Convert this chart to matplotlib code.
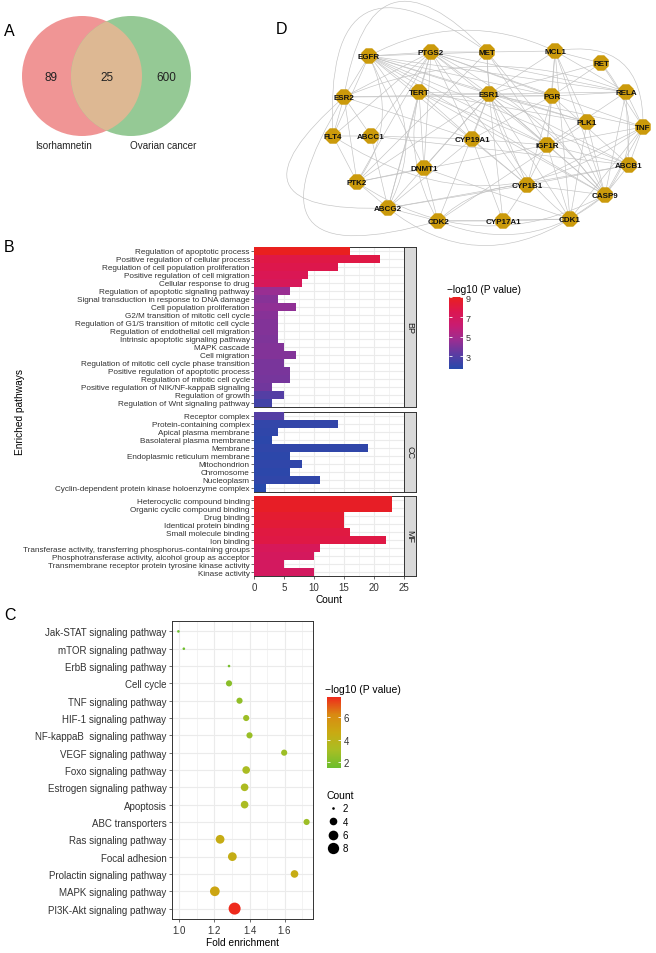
import numpy as np
import matplotlib.pyplot as plt
from matplotlib.colors import LinearSegmentedColormap, Normalize
from matplotlib.cm import ScalarMappable
from matplotlib.patches import Circle, PathPatch
from matplotlib.path import Path
from matplotlib.lines import Line2D

plt.rcParams['font.family'] = ['Liberation Sans', 'DejaVu Sans']

W, H = 656, 954

# ---------------- A: venn
venn_sets = ['Isorhamnetin', 'Ovarian cancer']
venn_counts = [89, 25, 600]   # left only, both, right only

# ---------------- B: GO enrichment
bp_terms = ['Regulation of apoptotic process', 'Positive regulation of cellular process',
            'Regulation of cell population proliferation', 'Positive regulation of cell migration',
            'Cellular response to drug', 'Regulation of apoptotic signaling pathway',
            'Signal transduction in response to DNA damage', 'Cell population proliferation',
            'G2/M transition of mitotic cell cycle', 'Regulation of G1/S transition of mitotic cell cycle',
            'Regulation of endothelial cell migration', 'Intrinsic apoptotic signaling pathway',
            'MAPK cascade', 'Cell migration', 'Regulation of mitotic cell cycle phase transition',
            'Positive regulation of apoptotic process', 'Regulation of mitotic cell cycle',
            'Positive regulation of NIK/NF-kappaB signaling', 'Regulation of growth',
            'Regulation of Wnt signaling pathway']
bp_count = [16, 21, 14, 9, 8, 6, 4, 7, 4, 4, 4, 4, 5, 7, 5, 6, 6, 3, 5, 3]
bp_logp = [9.05, 7.9, 7.7, 7.4, 7.2, 4.6, 4.2, 4.4, 4.2, 4.1, 4.1, 4.0, 4.1, 4.1, 3.9, 3.9, 3.8, 3.7, 3.0, 2.5]

cc_terms = ['Receptor complex', 'Protein-containing complex', 'Apical plasma membrane',
            'Basolateral plasma membrane', 'Membrane', 'Endoplasmic reticulum membrane',
            'Mitochondrion', 'Chromosome', 'Nucleoplasm',
            'Cyclin-dependent protein kinase holoenzyme complex']
cc_count = [5, 14, 4, 3, 19, 6, 8, 6, 11, 2]
cc_logp = [3.0, 2.1, 2.0, 1.9, 2.0, 1.9, 2.0, 1.9, 2.0, 1.7]

mf_terms = ['Heterocyclic compound binding', 'Organic cyclic compound binding', 'Drug binding',
            'Identical protein binding', 'Small molecule binding', 'Ion binding',
            'Transferase activity, transferring phosphorus-containing groups',
            'Phosphotransferase activity, alcohol group as acceptor',
            'Transmembrane receptor protein tyrosine kinase activity', 'Kinase activity']
mf_count = [23, 23, 15, 15, 16, 22, 11, 10, 5, 10]
mf_logp = [8.8, 8.8, 8.5, 8.3, 8.0, 7.9, 7.2, 7.0, 6.9, 6.9]

# ---------------- C: KEGG
kegg_terms = ['Jak-STAT signaling pathway', 'mTOR signaling pathway', 'ErbB signaling pathway',
              'Cell cycle', 'TNF signaling pathway', 'HIF-1 signaling pathway',
              'NF-kappaB  signaling pathway', 'VEGF signaling pathway', 'Foxo signaling pathway',
              'Estrogen signaling pathway', 'Apoptosis', 'ABC transporters', 'Ras signaling pathway',
              'Focal adhesion', 'Prolactin signaling pathway', 'MAPK signaling pathway',
              'PI3K-Akt signaling pathway']
kegg_fold = [0.994, 1.025, 1.283, 1.283, 1.343, 1.381, 1.400, 1.598, 1.381, 1.372, 1.372,
             1.726, 1.232, 1.302, 1.657, 1.202, 1.315]
kegg_count = [2, 2, 2, 3, 3, 3, 3, 3, 4, 4, 4, 3, 5, 5, 4, 6, 9]
kegg_logp = [1.5, 1.6, 1.8, 2.3, 2.5, 2.8, 2.7, 2.8, 3.2, 3.3, 3.2, 2.8, 4.5, 4.4, 4.5, 4.9, 7.8]

# ---------------- D: PPI network
ppi_layout = {
    'EGFR': (369, 57), 'PTGS2': (431, 53), 'MET': (487, 53), 'MCL1': (555, 52), 'RET': (601, 64),
    'ESR2': (344, 98), 'TERT': (419, 93), 'ESR1': (489, 95), 'PGR': (552, 97), 'RELA': (626, 93),
    'PLK1': (587, 123), 'TNF': (643, 128), 'FLT4': (333, 137), 'ABCC1': (371, 137),
    'CYP19A1': (472, 140), 'IGF1R': (547, 146), 'ABCB1': (629, 166), 'DNMT1': (424, 169),
    'PTK2': (357, 183), 'CYP1B1': (527, 186), 'CASP9': (605, 196), 'ABCG2': (388, 209),
    'CDK2': (438, 222), 'CYP17A1': (503, 222), 'CDK1': (570, 220),
}
ppi_edges = [
    ('EGFR', 'PTGS2'), ('EGFR', 'MET'), ('EGFR', 'ESR2'), ('EGFR', 'TERT'), ('EGFR', 'ESR1'),
    ('EGFR', 'PGR'), ('EGFR', 'IGF1R'), ('EGFR', 'PTK2'), ('EGFR', 'FLT4'), ('EGFR', 'CYP1B1'),
    ('EGFR', 'CASP9'), ('EGFR', 'RELA'), ('EGFR', 'ABCB1'), ('EGFR', 'PLK1'), ('EGFR', 'ABCG2'),
    ('EGFR', 'DNMT1'), ('EGFR', 'MCL1'),
    ('PTGS2', 'MET'), ('PTGS2', 'ESR2'), ('PTGS2', 'FLT4'), ('PTGS2', 'ABCC1'), ('PTGS2', 'PTK2'),
    ('PTGS2', 'TERT'), ('PTGS2', 'ESR1'), ('PTGS2', 'CYP19A1'), ('PTGS2', 'CYP1B1'),
    ('PTGS2', 'RELA'), ('PTGS2', 'TNF'), ('PTGS2', 'CASP9'), ('PTGS2', 'IGF1R'),
    ('PTGS2', 'ABCG2'), ('PTGS2', 'DNMT1'), ('PTGS2', 'PGR'),
    ('MET', 'MCL1'), ('MET', 'ESR1'), ('MET', 'IGF1R'), ('MET', 'CASP9'), ('MET', 'PTK2'),
    ('MET', 'ESR2'), ('MET', 'CDK1'),
    ('MCL1', 'RET'), ('MCL1', 'PGR'), ('MCL1', 'ESR1'), ('MCL1', 'TNF'), ('MCL1', 'CASP9'),
    ('MCL1', 'CDK1'), ('MCL1', 'RELA'), ('MCL1', 'PLK1'), ('MCL1', 'IGF1R'),
    ('RET', 'PGR'), ('RET', 'ESR1'), ('RET', 'TNF'), ('RET', 'CASP9'),
    ('ESR2', 'ESR1'), ('ESR2', 'FLT4'), ('ESR2', 'PTK2'), ('ESR2', 'ABCC1'), ('ESR2', 'CYP19A1'),
    ('ESR2', 'PGR'), ('ESR2', 'ABCG2'), ('ESR2', 'RELA'),
    ('TERT', 'ESR1'), ('TERT', 'CYP19A1'), ('TERT', 'DNMT1'), ('TERT', 'CDK2'), ('TERT', 'PLK1'),
    ('TERT', 'CASP9'), ('TERT', 'ABCG2'), ('TERT', 'IGF1R'),
    ('ESR1', 'PGR'), ('ESR1', 'IGF1R'), ('ESR1', 'CYP19A1'), ('ESR1', 'CYP1B1'),
    ('ESR1', 'CYP17A1'), ('ESR1', 'DNMT1'), ('ESR1', 'CASP9'), ('ESR1', 'CDK1'),
    ('ESR1', 'ABCB1'), ('ESR1', 'ABCG2'), ('ESR1', 'RELA'), ('ESR1', 'TNF'), ('ESR1', 'PLK1'),
    ('ESR1', 'CDK2'), ('ESR1', 'PTK2'),
    ('PGR', 'IGF1R'), ('PGR', 'CYP19A1'), ('PGR', 'CYP1B1'), ('PGR', 'CASP9'), ('PGR', 'ABCB1'),
    ('PGR', 'RELA'),
    ('RELA', 'TNF'), ('RELA', 'CASP9'), ('RELA', 'ABCB1'), ('RELA', 'IGF1R'),
    ('PLK1', 'CDK1'), ('PLK1', 'CDK2'), ('PLK1', 'CASP9'),
    ('TNF', 'CASP9'), ('TNF', 'ABCB1'), ('TNF', 'IGF1R'), ('TNF', 'CDK1'), ('TNF', 'CYP1B1'),
    ('FLT4', 'ABCC1'), ('FLT4', 'PTK2'), ('FLT4', 'TNF'),
    ('ABCC1', 'ABCG2'), ('ABCC1', 'ABCB1'), ('ABCC1', 'CYP19A1'),
    ('CYP19A1', 'CYP1B1'), ('CYP19A1', 'CYP17A1'), ('CYP19A1', 'IGF1R'), ('CYP19A1', 'ABCG2'),
    ('IGF1R', 'PTK2'), ('IGF1R', 'CASP9'), ('IGF1R', 'CDK1'), ('IGF1R', 'CYP1B1'), ('IGF1R', 'ABCB1'),
    ('ABCB1', 'ABCG2'), ('ABCB1', 'CASP9'), ('ABCB1', 'CYP1B1'),
    ('DNMT1', 'CDK2'), ('DNMT1', 'PTK2'), ('DNMT1', 'CDK1'),
    ('PTK2', 'ABCG2'), ('PTK2', 'CASP9'),
    ('CYP1B1', 'ABCG2'), ('CYP1B1', 'CYP17A1'), ('CYP1B1', 'CASP9'), ('CYP1B1', 'CDK2'),
    ('CASP9', 'CDK1'), ('CASP9', 'CDK2'), ('ABCG2', 'CDK2'), ('ABCG2', 'CDK1'),
    ('CDK2', 'CYP17A1'), ('CDK2', 'CDK1'), ('CYP17A1', 'CDK1'),
    ('ESR2', 'CDK2'), ('FLT4', 'MET'),
]
# bend of the looping edges (fraction of the edge length)
ppi_bend = {
    ('MET', 'ESR2'): -1.0, ('FLT4', 'MET'): 1.05, ('ESR2', 'ABCG2'): -1.4, ('ESR2', 'CDK2'): -1.3,
    ('ABCG2', 'CDK1'): -0.35, ('PTK2', 'CASP9'): -0.3, ('CASP9', 'CDK2'): 0.3,
    ('MCL1', 'TNF'): 0.6, ('EGFR', 'MCL1'): 0.25, ('RET', 'CASP9'): 0.4, ('FLT4', 'TNF'): -0.35,
    ('EGFR', 'ABCG2'): 0.35, ('ESR2', 'RELA'): 0.2, ('MET', 'CDK1'): -0.25, ('PTGS2', 'CASP9'): 0.12,
    ('TERT', 'CDK2'): -0.2, ('EGFR', 'PTK2'): 0.3, ('CYP1B1', 'CDK2'): -0.2,
}

fig = plt.figure(figsize=(W / 100, H / 100), dpi=100)


def px_axes(x0, y0, x1, y1):
    return fig.add_axes([x0 / W, 1 - y1 / H, (x1 - x0) / W, (y1 - y0) / H])


def letter(x, y, s):
    fig.text(x / W, 1 - y / H, s, fontsize=11.5, ha='left', va='center')


dark = '#333333'
grid_c = '#EBEBEB'

# ================= A
ax = px_axes(0, 0, 260, 160)
ax.set_xlim(0, 260)
ax.set_ylim(160, 0)
ax.axis('off')
left = Circle((82, 77), 60, fc='#F09595', ec='none')
right = Circle((131, 77), 60, fc='#95C995', ec='none')
ax.add_patch(left)
ax.add_patch(right)
lens = Circle((131, 77), 60, fc='#DDB893', ec='none')
ax.add_patch(lens)
lens.set_clip_path(left)
for x, n in zip([51, 107, 166], venn_counts):
    ax.text(x, 78, str(n), fontsize=8.5, ha='center', va='center', color='#222222')
for x, s in zip([63, 163], venn_sets):
    ax.text(x, 146, s, fontsize=7.1, ha='center', va='center', color='#222222')
letter(4, 31, 'A')

# ================= D
ax = px_axes(260, 0, 656, 240)
ax.set_xlim(260, 656)
ax.set_ylim(240, 0)
ax.axis('off')
for a, b in ppi_edges:
    p0 = np.array(ppi_layout[a], float)
    p1 = np.array(ppi_layout[b], float)
    bend = ppi_bend.get((a, b), 0.0)
    d = p1 - p0
    ctrl = (p0 + p1) / 2 + bend * np.array([d[1], -d[0]])
    path = Path([p0, ctrl, p1], [Path.MOVETO, Path.CURVE3, Path.CURVE3])
    ax.add_patch(PathPatch(path, fc='none', ec='#C2C2C2', lw=0.45, clip_on=False, zorder=1))
names = list(ppi_layout)
nx = [ppi_layout[n][0] for n in names]
ny = [ppi_layout[n][1] for n in names]
ax.scatter(nx, ny, s=145, marker='8', c='#CB9A0B', edgecolors='none', zorder=3)
for n, x, y in zip(names, nx, ny):
    ax.text(x, y + 0.5, n, fontsize=5.8, fontweight='bold', ha='center', va='center',
            color='#111111', zorder=4)
letter(276, 29, 'D')

# ================= B
cmap_b = LinearSegmentedColormap.from_list(
    'go', ['#2649AB', '#5A3CA3', '#9A2E92', '#C81C72', '#DC1650', '#E9201E'])
all_logp = bp_logp + cc_logp + mf_logp
norm_b = Normalize(min(all_logp), max(all_logp))

facets = [('BP', bp_terms, bp_count, bp_logp, 248, 408),
          ('CC', cc_terms, cc_count, cc_logp, 413, 493),
          ('MF', mf_terms, mf_count, mf_logp, 497, 577)]
for name, terms, counts, logp, y0, y1 in facets:
    ax = px_axes(254, y0, 404, y1)
    yy = np.arange(len(terms))
    ax.barh(yy, counts, height=0.9, color=cmap_b(norm_b(logp)), zorder=3)
    ax.set_xlim(0, 25)
    ax.set_ylim(len(terms) - 0.5, -0.5)
    ax.set_yticks(yy)
    ax.set_yticklabels(terms, fontsize=5.9, color=dark)
    ax.set_xticks(np.arange(0, 26, 5))
    ax.set_xticks(np.arange(2.5, 25, 5), minor=True)
    ax.grid(True, which='major', color=grid_c, lw=0.8)
    ax.grid(True, which='minor', axis='x', color=grid_c, lw=0.4)
    ax.set_axisbelow(True)
    ax.tick_params(axis='y', length=2, width=0.5, color=dark, pad=1)
    ax.tick_params(axis='x', which='minor', length=0)
    ax.tick_params(axis='x', which='major', length=2.5, width=0.5, color=dark,
                   labelsize=7, labelcolor=dark, pad=1.5)
    for sp in ax.spines.values():
        sp.set_color(dark)
        sp.set_linewidth(0.7)
    if name != 'MF':
        ax.tick_params(axis='x', which='major', bottom=False, labelbottom=False)
    else:
        ax.set_xlabel('Count', fontsize=7.3, labelpad=2)
    st = px_axes(404, y0, 416, y1)
    st.set_facecolor('#D9D9D9')
    st.set_xticks([])
    st.set_yticks([])
    for sp in st.spines.values():
        sp.set_color(dark)
        sp.set_linewidth(0.7)
    st.text(0.5, 0.5, name, rotation=-90, ha='center', va='center', fontsize=6.5,
            color='#1A1A1A', transform=st.transAxes)

fig.text(20 / W, 1 - 412 / H, 'Enriched pathways', rotation=90, fontsize=7.3,
         ha='center', va='center')
letter(4, 247, 'B')

cax = px_axes(449, 298, 463, 370)
cb = fig.colorbar(ScalarMappable(norm_b, cmap_b), cax=cax, ticks=[3, 5, 7, 9])
cb.outline.set_visible(False)
cax.tick_params(length=2.5, width=0.6, color='white', direction='in', left=True, right=True,
                labelsize=6.5, labelcolor=dark, pad=2)
fig.text(447 / W, 1 - 290 / H, '\u2212log10 (P value)', fontsize=7.3, ha='left', va='center')

# ================= C
cmap_c = LinearSegmentedColormap.from_list(
    'kegg', ['#6BBE2E', '#A8BE24', '#C9AA12', '#D98A12', '#EE2A1C'])
norm_c = Normalize(min(kegg_logp), max(kegg_logp))


def dot_px(c):
    # ggplot-like area scale, returns diameter in pixels
    lo, hi = min(kegg_count), max(kegg_count)
    return 2.6 + 9.4 * np.sqrt((np.asarray(c, float) - lo) / (hi - lo))


ax = px_axes(172, 622, 313, 920)
yy = np.arange(len(kegg_terms))
ax.scatter(kegg_fold, yy, s=(dot_px(kegg_count) * 0.72) ** 2, c=kegg_logp, cmap=cmap_c,
           norm=norm_c, edgecolors='none', zorder=3)
span = max(kegg_fold) - min(kegg_fold)
ax.set_xlim(min(kegg_fold) - 0.05 * span, max(kegg_fold) + 0.05 * span)
ax.set_ylim(len(kegg_terms) - 0.4, -0.6)
ax.set_yticks(yy)
ax.set_yticklabels(kegg_terms, fontsize=7, color=dark)
ax.set_xticks([1.0, 1.2, 1.4, 1.6])
ax.set_xticks([1.1, 1.3, 1.5, 1.7], minor=True)
ax.grid(True, which='major', color=grid_c, lw=0.8)
ax.grid(True, which='minor', axis='x', color=grid_c, lw=0.4)
ax.set_axisbelow(True)
ax.tick_params(axis='both', which='major', length=2.5, width=0.5, color=dark,
               labelsize=7, labelcolor=dark, pad=1.5)
ax.tick_params(axis='x', which='minor', length=0)
for sp in ax.spines.values():
    sp.set_color(dark)
    sp.set_linewidth(0.7)
ax.set_xlabel('Fold enrichment', fontsize=7.3, labelpad=2)
letter(4, 616, 'C')

cax = px_axes(327, 698, 341, 769)
cb = fig.colorbar(ScalarMappable(norm_c, cmap_c), cax=cax, ticks=[2, 4, 6])
cb.outline.set_visible(False)
cax.tick_params(length=2.5, width=0.6, color='white', direction='in', left=True, right=True,
                labelsize=7, labelcolor=dark, pad=2)
fig.text(325 / W, 1 - 690 / H, '\u2212log10 (P value)', fontsize=7.5, ha='left', va='center')

size_breaks = [2, 4, 6, 8]
handles = [Line2D([], [], ls='none', marker='o', color='black', markeredgewidth=0,
                  markersize=float(dot_px(c)) * 0.72) for c in size_breaks]
fig.legend(handles, [str(c) for c in size_breaks], title='Count', loc='upper left',
           bbox_to_anchor=(320 / W, 1 - 784 / H), frameon=False, fontsize=7, title_fontsize=7.5,
           labelspacing=0.35, handletextpad=0.4, handlelength=1.2, alignment='left',
           borderpad=0.2)

fig.savefig('out.png', dpi=100)
